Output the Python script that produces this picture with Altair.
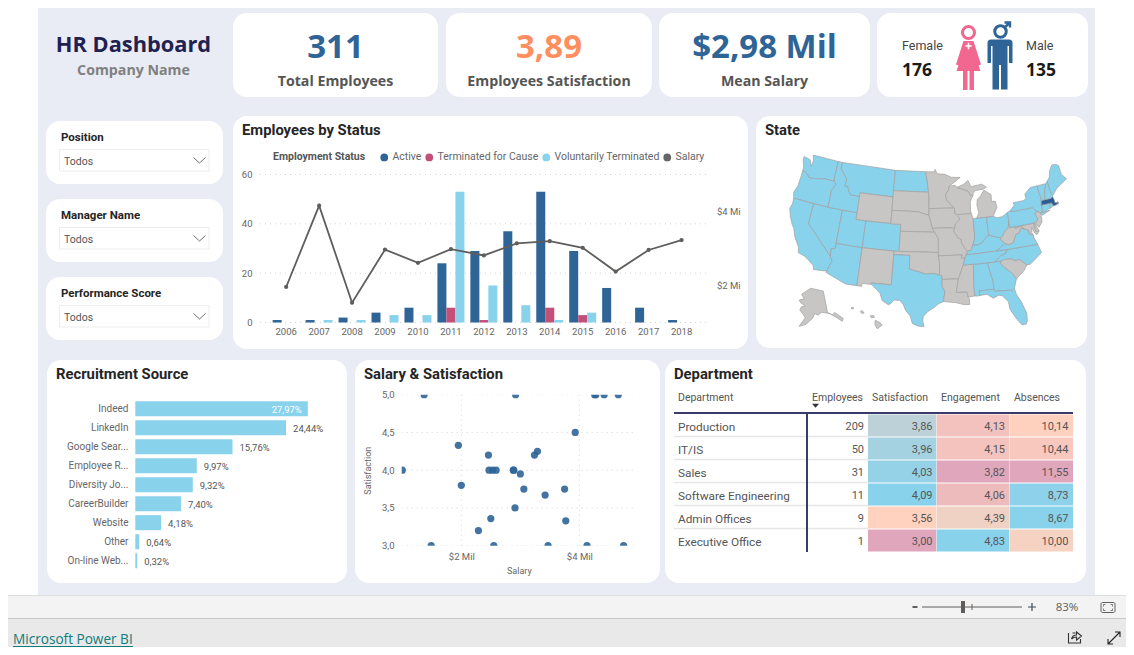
import altair as alt
import pandas as pd

# ---------- data ----------
years = ["2006","2007","2008","2009","2010","2011","2012","2013","2014","2015","2016","2017","2018"]
active = [1,1,2,4,6,24,29,37,53,29,14,6,1]
for_cause = [0,0,0,0,0,6,1,0,6,3,0,0,0]
voluntary = [0,1,1,3,3,53,15,7,1,4,0,0,0]
salary_by_year = [1.95,4.17,1.52,2.97,2.61,2.98,2.81,3.14,3.20,3.02,2.37,2.96,3.23]
status_names = ["Active","Terminated for Cause","Voluntarily Terminated"]

sources = ["Indeed","LinkedIn","Google Sear...","Employee R...","Diversity Jo...","CareerBuilder","Website","Other","On-line Web..."]
source_share = [27.97,24.44,15.76,9.97,9.32,7.40,4.18,0.64,0.32]

scatter_salary = [1.37,2.92,4.26,4.28,4.42,4.66,3.93,1.95,2.46,3.29,3.24,1.0,2.47,2.53,2.59,2.88,2.89,3.0,2.0,3.06,3.75,3.42,2.91,2.5,3.77,2.29,1.49,2.55,3.47,4.13,4.75]
scatter_satisf = [5,5,5,5,5,5,4.5,4.33,4.2,4.25,4.2,4,4,4,4,4,4,3.95,3.8,3.75,3.75,3.67,3.5,3.36,3.33,3.2,3,3,3,3,3]

departments = ["Production","IT/IS","Sales","Software Engineering","Admin Offices","Executive Office"]
dept_employees = [209,50,31,11,9,1]
dept_satisfaction = [3.86,3.96,4.03,4.09,3.56,3.00]
dept_engagement = [4.13,4.15,3.82,4.06,4.39,4.83]
dept_absences = [10.14,10.44,11.55,8.73,8.67,10.00]

blue_states = ["WA","OR","CA","NV","ID","MT","ND","UT","AZ","CO","TX","IN","OH","KY","TN","AL","GA","FL","NC","VA","PA","NY","VT","NH","ME","CT","RI"]
top_state = ["MA"]
state_rings = {
"WA":[[(-124.7,48.4),(-123.2,48.2),(-122.6,47.3),(-122.4,48.2),(-122.8,49.0),(-117.03,49.0),(-117.04,46.4),(-116.92,45.99),(-118.98,46.0),(-119.3,45.93),(-121.2,45.65),(-122.3,45.55),(-122.8,45.9),(-123.4,46.2),(-124.05,46.27),(-124.1,46.9),(-124.7,47.9)]],
"OR":[[(-124.05,46.27),(-123.4,46.2),(-122.8,45.9),(-122.3,45.55),(-121.2,45.65),(-119.3,45.93),(-118.98,46.0),(-116.92,45.99),(-116.46,45.6),(-116.85,44.9),(-117.22,44.4),(-117.03,43.8),(-117.03,42.0),(-124.2,42.0),(-124.55,42.85),(-124.1,44.0)]],
"CA":[[(-124.2,42.0),(-120.0,42.0),(-120.0,39.0),(-114.63,35.0),(-114.14,34.3),(-114.5,33.5),(-114.72,32.72),(-117.12,32.53),(-117.3,33.1),(-118.4,33.75),(-119.2,34.15),(-120.5,34.45),(-120.65,35.15),(-121.9,36.6),(-122.5,37.75),(-123.0,38.2),(-123.8,39.3),(-124.35,40.4),(-124.1,41.2)]],
"NV":[[(-120,42),(-114.04,42),(-114.04,36.2),(-114.74,36.1),(-114.63,35.0),(-120,39)]],
"ID":[[(-117.03,49),(-116.05,49),(-116.05,48.0),(-114.35,46.65),(-114.5,45.6),(-113.9,45.65),(-113.45,44.95),(-113.0,44.45),(-111.05,44.48),(-111.05,42.0),(-117.03,42.0),(-117.03,43.8),(-117.22,44.4),(-116.85,44.9),(-116.46,45.6),(-116.92,45.99),(-117.04,46.4)]],
"MT":[[(-116.05,49),(-104.05,49),(-104.05,45.0),(-111.05,45.0),(-111.05,44.48),(-113.0,44.45),(-113.45,44.95),(-113.9,45.65),(-114.5,45.6),(-114.35,46.65),(-116.05,48.0)]],
"WY":[[(-111.05,45),(-104.05,45),(-104.05,41),(-111.05,41)]],
"UT":[[(-114.04,42),(-111.05,42),(-111.05,41),(-109.05,41),(-109.05,37),(-114.04,37)]],
"AZ":[[(-114.04,37),(-109.05,37),(-109.05,31.33),(-111.07,31.33),(-114.81,32.5),(-114.72,32.72),(-114.5,33.5),(-114.14,34.3),(-114.63,35.0),(-114.74,36.1),(-114.04,36.2)]],
"CO":[[(-109.05,41),(-102.05,41),(-102.05,37),(-109.05,37)]],
"NM":[[(-109.05,37),(-103.0,37),(-103.05,32),(-106.62,32),(-106.5,31.78),(-108.2,31.78),(-108.2,31.33),(-109.05,31.33)]],
"ND":[[(-104.05,49),(-97.23,49),(-96.85,47.6),(-96.56,45.94),(-104.05,45.94)]],
"SD":[[(-104.05,45.94),(-96.56,45.94),(-96.45,45.3),(-96.45,43.5),(-96.45,42.5),(-97.9,42.8),(-98.5,43.0),(-104.05,43)]],
"NE":[[(-104.05,43),(-98.5,43),(-97.9,42.8),(-96.45,42.5),(-96.1,41.7),(-95.85,40.7),(-95.31,40),(-102.05,40),(-102.05,41),(-104.05,41)]],
"KS":[[(-102.05,40),(-95.31,40),(-94.6,39.1),(-94.62,37),(-102.05,37)]],
"OK":[[(-103,37),(-94.62,37),(-94.62,36.5),(-94.43,35.4),(-94.48,33.64),(-95.5,33.9),(-97.0,33.8),(-98.1,34.1),(-99.2,34.3),(-100,34.56),(-100,36.5),(-103,36.5)]],
"TX":[[(-106.62,32),(-103.05,32),(-103.0,36.5),(-100,36.5),(-100,34.56),(-99.2,34.3),(-98.1,34.1),(-97,33.8),(-95.5,33.9),(-94.48,33.64),(-94.04,33.55),(-94.04,33.0),(-94.05,31.9),(-93.55,31.2),(-93.75,30.4),(-93.85,29.7),(-94.7,29.4),(-95.4,28.9),(-96.6,28.2),(-97.3,27.5),(-97.4,26.8),(-97.15,25.95),(-98.2,26.05),(-99.1,26.4),(-99.5,27.5),(-100.3,28.3),(-100.8,29.25),(-101.4,29.77),(-102.4,29.78),(-102.9,29.2),(-103.3,29.0),(-104.4,29.55),(-104.9,30.6),(-106.5,31.78)]],
"MN":[[(-97.23,49),(-95.15,49),(-95.15,49.38),(-94.6,48.7),(-93,48.6),(-91.5,48.1),(-89.6,48.0),(-92.1,46.75),(-92.3,46.1),(-92.9,45.6),(-92.75,44.75),(-91.2,43.5),(-96.45,43.5),(-96.45,45.3),(-96.56,45.94),(-96.85,47.6)]],
"IA":[[(-96.45,43.5),(-91.2,43.5),(-91.1,42.7),(-90.15,41.8),(-91.1,41.2),(-91.4,40.4),(-91.7,40.6),(-95.75,40.58),(-96.1,41.7),(-96.45,42.5)]],
"MO":[[(-95.75,40.58),(-91.7,40.6),(-91.4,40.4),(-91.5,40.0),(-90.7,39.0),(-90.15,38.8),(-90.2,38.4),(-89.5,37.3),(-89.15,36.98),(-89.4,36.5),(-89.7,36.0),(-90.37,36.0),(-90.15,36.5),(-94.62,36.5),(-94.62,37),(-94.6,39.1),(-95.31,40)]],
"AR":[[(-94.62,36.5),(-90.15,36.5),(-90.37,36),(-89.7,36),(-90.1,35.0),(-91.1,33.0),(-94.04,33.0),(-94.04,33.55),(-94.48,33.64),(-94.43,35.4)]],
"LA":[[(-94.04,33),(-91.1,33),(-91.6,31.0),(-89.73,31.0),(-89.6,30.2),(-89.4,29.9),(-89.4,29.1),(-90.3,29.1),(-91.8,29.5),(-93.85,29.7),(-93.75,30.4),(-93.55,31.2),(-94.05,31.9)]],
"MS":[[(-90.1,35),(-88.2,35),(-88.47,31.9),(-88.4,30.3),(-89.6,30.2),(-89.73,31),(-91.6,31),(-91.1,33)]],
"AL":[[(-88.2,35),(-85.6,35),(-85.18,32.87),(-85,32.3),(-85.0,31.0),(-87.6,31.0),(-87.5,30.3),(-88.0,30.25),(-88.4,30.3),(-88.47,31.9)]],
"WI":[[(-92.1,46.75),(-90.8,46.9),(-90.4,46.55),(-88.1,45.9),(-87.6,45.1),(-87.0,45.3),(-87.8,44.3),(-87.9,43.0),(-87.8,42.5),(-90.65,42.5),(-91.1,42.7),(-91.2,43.5),(-92.75,44.75),(-92.9,45.6),(-92.3,46.1)]],
"IL":[[(-90.65,42.5),(-87.8,42.5),(-87.52,41.7),(-87.53,39.3),(-87.6,38.7),(-88.05,37.8),(-88.45,37.1),(-89.15,36.98),(-89.5,37.3),(-90.2,38.4),(-90.15,38.8),(-90.7,39),(-91.5,40),(-91.4,40.4),(-91.1,41.2),(-90.15,41.8)]],
"IN":[[(-87.52,41.7),(-87.2,41.76),(-84.8,41.73),(-84.82,39.1),(-85.4,38.7),(-86.3,38.0),(-87.1,37.8),(-88.05,37.8),(-87.6,38.7),(-87.53,39.3)]],
"MI":[[(-86.8,41.76),(-84.8,41.73),(-83.45,41.73),(-83.1,42.2),(-82.45,43.0),(-82.6,43.9),(-83.4,44.0),(-83.3,45.0),(-84.7,45.78),(-85.5,45.0),(-86.3,44.5),(-86.5,43.6),(-86.25,42.5)],
      [(-90.4,46.55),(-89.0,46.9),(-87.9,47.45),(-87.4,46.5),(-85,46.7),(-84.1,46.2),(-84.7,45.95),(-86.5,45.85),(-87.6,45.1),(-88.1,45.9)]],
"OH":[[(-84.8,41.73),(-83.45,41.73),(-82.7,41.45),(-81.7,41.5),(-80.52,41.98),(-80.52,40.64),(-80.85,39.7),(-81.7,39.2),(-82.2,38.6),(-82.6,38.45),(-83.3,38.6),(-84.3,38.9),(-84.82,39.1)]],
"KY":[[(-89.4,36.5),(-88.07,36.5),(-83.68,36.6),(-82.9,37.0),(-81.97,37.54),(-82.6,38.2),(-82.6,38.45),(-83.3,38.6),(-84.3,38.9),(-84.82,39.1),(-85.4,38.7),(-86.3,38),(-87.1,37.8),(-88.05,37.8),(-88.45,37.1),(-89.15,36.98)]],
"TN":[[(-89.7,36),(-89.4,36.5),(-88.07,36.5),(-83.68,36.6),(-81.68,36.59),(-82.0,36.1),(-83.1,35.75),(-84.32,35.0),(-85.6,35),(-88.2,35),(-90.1,35)]],
"NC":[[(-84.32,35),(-83.1,35.75),(-82,36.1),(-81.68,36.59),(-75.87,36.55),(-75.5,35.25),(-76.5,34.65),(-77.9,33.9),(-78.55,33.85),(-79.67,34.8),(-80.8,34.82),(-81,35.1),(-82.3,35.2),(-83.1,35.0)]],
"SC":[[(-83.1,35),(-82.3,35.2),(-81,35.1),(-80.8,34.82),(-79.67,34.8),(-78.55,33.85),(-79.3,33.1),(-80.85,32.05),(-81.4,33.0),(-82.6,34.0),(-83.35,34.7)]],
"GA":[[(-85.6,35),(-84.32,35),(-83.1,35),(-83.35,34.7),(-82.6,34),(-81.4,33),(-80.85,32.05),(-81.45,30.72),(-82.05,30.36),(-82.2,30.57),(-84.86,30.7),(-85,31),(-85,32.3),(-85.18,32.87)]],
"FL":[[(-87.5,30.3),(-87.6,31),(-85,31),(-84.86,30.7),(-82.2,30.57),(-82.05,30.36),(-81.45,30.72),(-81.25,29.8),(-80.55,28.4),(-80.05,26.8),(-80.15,25.7),(-80.4,25.2),(-81.1,25.15),(-81.8,26.1),(-82.7,27.7),(-82.8,28.9),(-83.7,29.9),(-84.3,30.05),(-85.3,29.7),(-86.3,30.4)]],
"VA":[[(-83.68,36.6),(-81.68,36.59),(-75.87,36.55),(-76.0,36.9),(-76.3,37.6),(-76.3,38.0),(-77.0,38.3),(-77.05,38.85),(-77.5,39.1),(-77.83,39.13),(-78.35,39.4),(-78.87,38.77),(-79.65,38.55),(-80.3,37.5),(-81.25,37.25),(-81.97,37.54),(-82.9,37)]],
"WV":[[(-81.97,37.54),(-81.25,37.25),(-80.3,37.5),(-79.65,38.55),(-78.87,38.77),(-78.35,39.4),(-77.83,39.13),(-78.2,39.7),(-79.48,39.47),(-79.48,39.72),(-80.52,39.72),(-80.52,40.64),(-80.85,39.7),(-81.7,39.2),(-82.2,38.6),(-82.6,38.45),(-82.6,38.2)]],
"MD":[[(-79.48,39.72),(-75.79,39.72),(-75.7,38.46),(-75.05,38.45),(-75.6,37.95),(-76.0,38.3),(-76.3,39.2),(-76.5,38.4),(-76.3,38.0),(-77,38.3),(-77.05,38.85),(-77.5,39.1),(-77.83,39.13),(-78.2,39.7),(-79.48,39.47)]],
"DE":[[(-75.79,39.72),(-75.4,39.8),(-75.55,39.5),(-75.05,38.45),(-75.7,38.46)]],
"PA":[[(-80.52,41.98),(-79.76,42.27),(-79.76,42),(-75.35,42),(-74.7,41.35),(-75.13,40.97),(-74.75,40.2),(-75.4,39.8),(-75.79,39.72),(-80.52,39.72)]],
"NJ":[[(-74.7,41.35),(-73.9,41.0),(-74.25,40.5),(-74,40.4),(-74.1,39.7),(-74.9,38.95),(-75.5,39.5),(-74.75,40.2),(-75.13,40.97)]],
"NY":[[(-79.76,42),(-79.76,42.27),(-78.9,42.9),(-79.0,43.27),(-76.8,43.3),(-76.2,43.55),(-76.3,44.2),(-75,44.95),(-74.7,45),(-73.35,45),(-73.4,44),(-73.25,43.55),(-73.27,42.75),(-73.5,42.05),(-73.49,41.2),(-73.73,40.95),(-72.0,41.05),(-73.9,40.55),(-73.9,41.0),(-74.7,41.35),(-75.35,42)]],
"CT":[[(-73.5,42.05),(-71.8,42.02),(-71.85,41.32),(-73.73,40.95),(-73.49,41.2)]],
"RI":[[(-71.8,42.02),(-71.38,42.02),(-71.15,41.5),(-71.85,41.32)]],
"MA":[[(-73.5,42.05),(-73.27,42.75),(-71.3,42.7),(-70.85,42.88),(-70.65,42.3),(-70.7,41.95),(-70.0,41.8),(-70.2,42.05),(-69.95,41.7),(-70.6,41.55),(-71.15,41.5),(-71.38,42.02),(-71.8,42.02)]],
"VT":[[(-73.35,45),(-71.5,45),(-72.05,44.1),(-72.45,43.1),(-72.46,42.73),(-73.27,42.75),(-73.25,43.55),(-73.4,44)]],
"NH":[[(-71.5,45),(-71.08,45.3),(-71.03,44.6),(-70.98,43.4),(-70.7,43.07),(-70.85,42.88),(-71.3,42.7),(-72.46,42.73),(-72.45,43.1),(-72.05,44.1)]],
"ME":[[(-71.08,45.3),(-70.4,45.8),(-70,46.7),(-69.2,47.45),(-68.3,47.35),(-67.8,47.07),(-67.8,45.7),(-67,44.85),(-68.5,44.3),(-69.5,43.9),(-70.7,43.07),(-70.98,43.4)]],
"AK":[[(-156.5,71.3),(-141,69.65),(-141,60.3),(-137.5,58.9),(-135,59.6),(-130,56),(-131.5,55),(-135,57.5),(-139.5,59.7),(-146,60.8),(-149.5,59.7),(-152,60.5),(-154,58.5),(-159,55.8),(-164,54.6),(-160,58.5),(-162,59.9),(-165.5,61.5),(-164.5,63),(-161,63.5),(-165.5,64.5),(-168,65.6),(-163,66.5),(-166.5,68.3),(-163,69.5)]],
"HI":[[(-155.9,20.25),(-155.1,19.85),(-154.8,19.5),(-155.6,18.95),(-155.95,19.6)],
      [(-156.7,20.9),(-156.2,20.95),(-156,20.7),(-156.5,20.6)],
      [(-158.25,21.55),(-157.95,21.7),(-157.65,21.3),(-158.1,21.3)],
      [(-159.75,22.1),(-159.4,22.2),(-159.35,21.95),(-159.65,21.9)]],
}

# ---------- styling ----------
BG, NAVY, BLUE, PINK, SKY, GREY = "#E9ECF4", "#3A3A6B", "#2F6496", "#C4507A", "#88D2EC", "#605E5C"
UI, DIN = "Open Sans", "Roboto"
AX = "#666666"
W, H = 1118, 639
layers = []

def P(v):            # reference page pixel -> canvas pixel
    return v - 8

def rect(x1, y1, x2, y2, fill="#FFFFFF", r=0, stroke=None):
    kw = {"stroke": stroke, "strokeWidth": 1} if stroke else {}
    layers.append(alt.Chart().mark_rect(fill=fill, cornerRadius=r, opacity=1, **kw).encode(
        x=alt.value(P(x1)), x2=alt.value(P(x2)), y=alt.value(P(y1)), y2=alt.value(P(y2))))

def label(t, x, y, size=11, color="#555555", weight="normal", align="left", font=DIN, angle=None):
    kw = {"angle": angle} if angle is not None else {}
    layers.append(alt.Chart().mark_text(text=t, font=font, fontSize=size, color=color, fontWeight=weight,
                                        align=align, baseline="middle", **kw).encode(
        x=alt.value(P(x)), y=alt.value(P(y) + 1)))

def line(x1, y1, x2, y2, color="#CCCCCC", w=1):
    if y1 == y2:
        enc = dict(x=alt.value(P(x1)), x2=alt.value(P(x2)), y=alt.value(P(y1)))
    else:
        enc = dict(x=alt.value(P(x1)), y=alt.value(P(y1)), y2=alt.value(P(y2)))
    layers.append(alt.Chart().mark_rule(color=color, strokeWidth=w).encode(**enc))

def glyph(path, x, y, fill=None, stroke=None, sw=1, size=4):
    if fill:
        m = alt.Chart().mark_point(shape=path, filled=True, fill=fill, size=size, opacity=1, strokeWidth=0)
    else:
        m = alt.Chart().mark_point(shape=path, filled=False, stroke=stroke, size=size, opacity=1, strokeWidth=sw)
    layers.append(m.encode(x=alt.value(P(x)), y=alt.value(P(y))))

def ring(x, y, d, color, sw):
    layers.append(alt.Chart().mark_point(shape="circle", filled=False, stroke=color, strokeWidth=sw, size=d*d, opacity=1)
                  .encode(x=alt.value(P(x)), y=alt.value(P(y))))

def axis(**kw):
    base = dict(title=None, domain=False, ticks=False, grid=False, labelFont=DIN, labelFontSize=9.5, labelColor=AX,
                labelOverlap=False, labelFlush=False, labelBound=False, zindex=1)
    base.update(kw)
    return alt.Axis(**base)

# ---------- backgrounds ----------
rect(38, 8, 1095, 595, BG)
rect(8, 595, 1126, 618, "#F3F3F3")
rect(8, 618, 1126, 647, "#E9E9E9")
line(8, 595.5, 1126, 595.5, "#DEDEDE", 1)
line(8, 618.5, 1126, 618.5, "#C8C8C8", 1)

# ---------- header ----------
label("HR Dashboard", 133.5, 43.5, 21.8, "#1F2150", 700, "center", UI)
label("Company Name", 133.5, 69.5, 14.2, "#808080", 700, "center", UI)
for x1, x2, big, small, col, bs in [(233,438,"311","Total Employees",BLUE,33),
                                     (446,652,"3,89","Employees Satisfaction","#FF8F5E",33),
                                     (659,870,"$2,98 Mil","Mean Salary",BLUE,33)]:
    rect(x1, 13, x2, 97, r=14)
    cx = (x1 + x2) / 2
    label(big, cx, 47, bs, col, 700, "center", UI)
    label(small, cx, 80.5, 14.2, "#555555", 700, "center", UI)
rect(877, 13, 1088, 97, r=14)
label("Female", 902, 45, 12.5, "#444444", "normal", "left", DIN)
label("176", 902, 70, 17.5, "#1A1A1A", 700, "left", UI)
label("Male", 1026, 45, 12.5, "#444444", "normal", "left", DIN)
label("135", 1026, 70, 17.5, "#1A1A1A", 700, "left", UI)
FEM = "#F2678F"
glyph("M-5,-24.5 L5,-24.5 L12.5,-1 L10,0 L5.5,-13 L12,5.5 L5.5,5.5 L5.5,24.5 L1,24.5 L1,5.5 L-1,5.5 L-1,24.5 L-5.5,24.5 L-5.5,5.5 L-12,5.5 L-5.5,-13 L-10,0 L-12.5,-1 Z", 968.5, 65.5, fill=FEM)
glyph("M-1,-4 L1,-4 L1,-1 L4,-1 L4,1 L1,1 L1,4 L-1,4 L-1,1 L-4,1 L-4,-1 L-1,-1 Z", 968.5, 46, fill="#FFFFFF", size=2.6)
ring(968.5, 32.5, 12, FEM, 3)
glyph("M-9,-25.5 L9,-25.5 Q12.5,-25.5 12.5,-22 L12.5,-2 L9,-2 L9,-19 L7.5,-19 L7.5,24.5 L1,24.5 L1,0 L-1,0 L-1,24.5 L-7.5,24.5 L-7.5,-19 L-9,-19 L-9,-2 L-12.5,-2 L-12.5,-22 Q-12.5,-25.5 -9,-25.5 Z", 1000, 65, fill=BLUE)
ring(1000.5, 31.5, 11.5, BLUE, 3)
glyph("M3.5,-3.5 L9,-8.5 M4,-9 L9.5,-9 L9.5,-4", 1000.5, 31.5, stroke=BLUE, sw=2.4)

# ---------- slicers ----------
for y0, name in [(121,"Position"), (199,"Manager Name"), (277,"Performance Score")]:
    rect(46, y0, 223, y0 + 63, r=14)
    label(name, 61, y0 + 16, 11.5, "#252525", 700, "left", DIN)
    rect(59.5, y0 + 28.5, 209, y0 + 50, "#FFFFFF", stroke="#EDEDED")
    label("Todos", 64, y0 + 40, 10.5, "#555555", "normal", "left", DIN)
    glyph("M-6,-3 L0,2.5 L6,-3", 199.5, y0 + 39.5, stroke="#605E5C", sw=0.9)

# ---------- cards ----------
rect(233, 116, 748, 349, r=14)
rect(756, 116, 1087, 348, r=14)
rect(47, 360, 347, 583, r=14)
rect(355, 360, 660, 583, r=14)
rect(665, 360, 1086, 583, r=14)
for t, x, y in [("Employees by Status",242,130),("State",765,130),("Recruitment Source",56,374),
                ("Salary & Satisfaction",364,374),("Department",674,374)]:
    label(t, x, y, 14.8, "#252525", 700, "left", DIN)

# ---------- employees by status ----------
band_years = alt.Scale(type="band", domain=years, range=[P(269.7), P(698.05)], paddingInner=0.18, paddingOuter=0.09)
y_count = alt.Scale(domain=[0, 60], range=[P(322.5), P(174.5)], nice=False)
y_sal = alt.Scale(domain=[0.98, 5.02], range=[P(322.5), P(174.5)], nice=False, zero=False)
layers.append(alt.Chart(pd.DataFrame({"v": [0, 20, 40, 60]})).mark_rule(color="#D4D4D4", strokeWidth=1, strokeDash=[1, 4]).encode(
    y=alt.Y("v:Q", scale=y_count, axis=axis(values=[0, 20, 40, 60], orient="left", offset=-P(252), labelPadding=0, format="d")),
    x=alt.value(P(260)), x2=alt.value(P(707))))
long_rows = [{"year": y, "status": s, "count": c}
             for s, vals in zip(status_names, [active, for_cause, voluntary])
             for y, c in zip(years, vals)]
layers.append(alt.Chart(pd.DataFrame(long_rows)).mark_bar().encode(
    x=alt.X("year:N", scale=band_years, sort=years,
            axis=axis(orient="bottom", offset=P(326) - H, labelPadding=0, labelAngle=0, labelBaseline="top")),
    xOffset=alt.XOffset("status:N", sort=status_names,
                        scale=alt.Scale(domain=status_names, range=[0, 27], paddingInner=0, paddingOuter=0)),
    y=alt.Y("count:Q", scale=y_count, axis=None),
    color=alt.Color("status:N", scale=alt.Scale(domain=status_names + ["Salary"], range=[BLUE, PINK, SKY, "#666666"]),
                    legend=alt.Legend(orient="none", legendX=P(273), legendY=P(152), direction="horizontal",
                                      title="Employment Status", titleOrient="left", symbolType="circle", symbolSize=60,
                                      titleFont=DIN, titleFontSize=10.5, titleFontWeight=700, titleColor="#555555",
                                      labelFont=DIN, labelFontSize=10.5, labelColor=AX, columnPadding=2,
                                      titlePadding=13, symbolOffset=0, labelOffset=3, labelLimit=200)),
))
line_df = pd.DataFrame({"year": years, "salary": salary_by_year})
layers.append(alt.Chart(line_df).mark_line(color=GREY, strokeWidth=1.8).encode(
    x=alt.X("year:N", scale=band_years, sort=years, axis=None),
    y=alt.Y("salary:Q", scale=y_sal,
            axis=axis(values=[2, 4], orient="right", offset=P(707) - W, labelPadding=9.5, labelExpr="'$'+datum.value+' Mi'"))))
layers.append(alt.Chart(line_df).mark_point(filled=True, color=GREY, size=18, opacity=1).encode(
    x=alt.X("year:N", scale=band_years, sort=years, axis=None),
    y=alt.Y("salary:Q", scale=y_sal, axis=None)))

# ---------- state map ----------
def ccw_area(r):
    return sum(a[0]*b[1]-b[0]*a[1] for a, b in zip(r, r[1:]+r[:1]))
features = []
for code, rings in state_rings.items():
    polys = []
    for r in rings:
        rr = r if ccw_area(r) < 0 else r[::-1]      # d3 wants clockwise exteriors
        rr = rr + [rr[0]]
        polys.append([[list(p) for p in rr]])
    features.append({"type": "Feature", "properties": {"state": code,
        "group": "top" if code in top_state else "some" if code in blue_states else "none"},
        "geometry": {"type": "MultiPolygon", "coordinates": polys}})
layers.append(alt.Chart(alt.Data(values=features)).mark_geoshape(stroke="#A0A0A0", strokeWidth=0.7).encode(
    color=alt.Color("properties.group:N", legend=None,
                    scale=alt.Scale(domain=["none", "some", "top"], range=["#C8C6C4", SKY, "#2B5C93"]))
).project(type="albersUsa", scale=384, translate=[P(928), P(241)]))

# ---------- recruitment ----------
y_src = alt.Scale(type="band", domain=sources, range=[P(399.2), P(570.2)], paddingInner=0.21, paddingOuter=0.105)
x_src = alt.Scale(domain=[0, 28], range=[P(135.3), P(308.0)], nice=False)
src_df = pd.DataFrame({"source": sources, "share": source_share,
                       "label": [f"{v:.2f}%".replace(".", ",") for v in source_share]})
layers.append(alt.Chart(src_df).mark_bar(color=SKY).encode(
    x=alt.X("share:Q", scale=x_src, axis=None),
    y=alt.Y("source:N", scale=y_src, sort=sources, axis=axis(orient="left", offset=-P(130), labelPadding=2, labelFontSize=10))))
layers.append(alt.Chart(src_df.iloc[1:]).mark_text(align="left", dx=7, dy=1, font=DIN, fontSize=9.5, color="#555555").encode(
    x=alt.X("share:Q", scale=x_src, axis=None), y=alt.Y("source:N", scale=y_src, sort=sources, axis=None), text="label:N"))
layers.append(alt.Chart(src_df.iloc[:1]).mark_text(align="right", dx=-6, dy=1, font=DIN, fontSize=9.5, color="#FFFFFF").encode(
    x=alt.X("share:Q", scale=x_src, axis=None), y=alt.Y("source:N", scale=y_src, sort=sources, axis=None), text="label:N"))

# ---------- scatter ----------
x_sc = alt.Scale(domain=[0.99, 4.96], range=[P(401.7), P(636)], nice=False, zero=False)
y_sc = alt.Scale(domain=[3, 5], range=[P(545.7), P(394.7)], nice=False, zero=False)
layers.append(alt.Chart(pd.DataFrame({"v": [3, 3.5, 4, 4.5, 5]})).mark_rule(color="#D4D4D4", strokeDash=[1, 4]).encode(
    y=alt.Y("v:Q", scale=y_sc, axis=axis(orient="left", values=[3, 3.5, 4, 4.5, 5], offset=-P(394), labelPadding=0,
                                          labelExpr="replace(format(datum.value,'.1f'),'.',',')",
                                          title="Satisfaction", titleFont=DIN, titleFontSize=9, titleFontWeight="normal",
                                          titleColor=AX, titlePadding=9)),
    x=alt.value(P(401.7)), x2=alt.value(P(636))))
layers.append(alt.Chart(pd.DataFrame({"v": [2, 4]})).mark_rule(color="#D4D4D4", strokeDash=[1, 4]).encode(
    x=alt.X("v:Q", scale=x_sc, axis=axis(orient="bottom", values=[2, 4], offset=P(551) - H, labelPadding=0,
                                          labelExpr="'$'+datum.value+' Mil'",
                                          title="Salary", titleFont=DIN, titleFontSize=9, titleFontWeight="normal",
                                          titleColor=AX, titlePadding=6)),
    y=alt.value(P(394.7)), y2=alt.value(P(545.7))))
layers.append(alt.Chart(pd.DataFrame({"salary": scatter_salary, "satisfaction": scatter_satisf}))
              .mark_point(filled=True, color="#2F6496", size=52, opacity=0.9).encode(
    x=alt.X("salary:Q", scale=x_sc, axis=None), y=alt.Y("satisfaction:Q", scale=y_sc, axis=None)))
rect(396, 386, 645, 394.7)      # plot-area clipping of points sitting on the edges
rect(396, 545.7, 645, 550.5)
rect(396, 386, 401.7, 550.5)

# ---------- department table ----------
y_row = alt.Scale(type="band", domain=departments, range=[P(414), P(552)], paddingInner=0.05, paddingOuter=0.025)
PK, PE, BL = "#DFA6BC", "#FFD2BF", SKY
cols = [("Satisfaction", dept_satisfaction, 868, 936.3, 932.5, [3.0, 3.56, 4.09], [PK, PE, BL]),
        ("Engagement", dept_engagement, 936.7, 1009.3, 1005, [3.82, 4.325, 4.83], [PK, PE, BL]),
        ("Absences", dept_absences, 1009.7, 1073, 1068.5, [8.67, 10.11, 11.55], [BL, PE, PK])]
for name, vals, x1, x2, xr, dom, rng in cols:
    df = pd.DataFrame({"dept": departments, "v": vals, "label": [f"{v:.2f}".replace(".", ",") for v in vals]})
    layers.append(alt.Chart(df).mark_rect().encode(
        x=alt.value(P(x1)), x2=alt.value(P(x2)), y=alt.Y("dept:N", scale=y_row, sort=departments, axis=None),
        color=alt.Color("v:Q", legend=None, scale=alt.Scale(domain=dom, range=rng, interpolate="rgb"))))
    layers.append(alt.Chart(df).mark_text(align="right", dy=1, font=DIN, fontSize=11, color="#555555").encode(
        x=alt.value(P(xr)), y=alt.Y("dept:N", scale=y_row, sort=departments, axis=None), text="label:N"))
dept_df = pd.DataFrame({"dept": departments, "n": dept_employees})
layers.append(alt.Chart(dept_df.iloc[:-1]).mark_rule(color="#E6E6E6", strokeWidth=1.5).encode(
    x=alt.value(P(674)), x2=alt.value(P(868)),
    y=alt.Y("dept:N", scale=y_row, sort=departments, axis=None, bandPosition=1)))
layers.append(alt.Chart(dept_df).mark_text(align="left", dy=1, font=DIN, fontSize=11.8, color="#555555").encode(
    x=alt.value(P(678)), y=alt.Y("dept:N", scale=y_row, sort=departments, axis=None), text="dept:N"))
layers.append(alt.Chart(dept_df).mark_text(align="right", dy=1, font=DIN, fontSize=11, color="#555555").encode(
    x=alt.value(P(864)), y=alt.Y("dept:N", scale=y_row, sort=departments, axis=None), text="n:Q"))
for t, x in [("Department",678),("Employees",812),("Satisfaction",872),("Engagement",941),("Absences",1014)]:
    label(t, x, 397, 10.5, "#555555", "normal", "left", DIN)
glyph("M-3.5,-2 L3.5,-2 L0,2 Z", 815.5, 405.7, fill="#333333")
line(674, 413, 1073, 413, NAVY, 2)
line(807, 413, 807, 552, NAVY, 2)

# ---------- window chrome ----------
label("Microsoft Power BI", 13, 638.5, 13.6, "#0F7C7C", "normal", "left", UI)
line(13, 646.5, 133, 646.5, "#0F7C7C", 1)
label("83%", 1067, 607, 11.5, "#605E5C", "normal", "center", UI)
line(922, 607, 1022, 607, "#605E5C", 1)
line(972, 604, 972, 610, "#605E5C", 1)
rect(961, 601, 965, 613, "#605E5C")
line(912.5, 607, 917.5, 607, "#605E5C", 2)
glyph("M-4,0 L4,0 M0,-4 L0,4", 1032, 607, stroke="#3C4A5A", sw=1.2)
rect(1101, 602.5, 1115, 612.5, "#F3F3F3", r=1.5, stroke="#605E5C")
glyph("M-4.5,-1 L-4.5,-3 L-2.5,-3 M2.5,-3 L4.5,-3 L4.5,-1 M4.5,1 L4.5,3 L2.5,3 M-2.5,3 L-4.5,3 L-4.5,1", 1108, 607.5, stroke="#605E5C", sw=0.8)
glyph("M-6,-5 L-6,5 L6,5 L6,1 M1,-5 L-2,-5 M-3,1 Q-2,-3 2,-3 L2,-6 L7,-2 L2,2 L2,-1 Q-1,-1 -3,1", 1074.5, 638, stroke="#333333", sw=1.1)
glyph("M-6,6 L6,-6 M1,-6 L6,-6 L6,-1 M-6,1 L-6,6 L-1,6", 1114, 638, stroke="#222222", sw=1.1)

# ---------- assemble ----------
chart = alt.layer(*layers).resolve_scale(x="independent", y="independent", color="independent").properties(
    width=W, height=H, padding=0, background="#FFFFFF",
    autosize=alt.AutoSizeParams(type="none", contains="padding")
).configure_view(stroke=None)

chart.save("out.html", embed_options={"renderer": "svg", "actions": False})
